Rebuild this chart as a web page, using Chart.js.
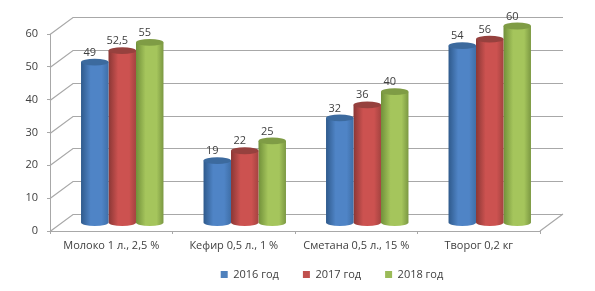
<!DOCTYPE html>
<html>
<head>
<meta charset="utf-8">
<script src="https://cdn.jsdelivr.net/npm/chart.js@4"></script>
<style>
  html, body { margin: 0; padding: 0; background: #fff; }
  #wrap { width: 595px; height: 291px; }
</style>
</head>
<body>
<div id="wrap"><canvas id="myChart" width="595" height="291"></canvas></div>
<script>
const categories = ["Молоко 1 л., 2,5 %", "Кефир 0,5 л., 1 %", "Сметана 0,5 л., 15 %", "Творог 0,2 кг"];
const seriesNames = ["2016 год", "2017 год", "2018 год"];
const values2016 = [49, 19, 32, 54];
const values2017 = [52.5, 22, 36, 56];
const values2018 = [55, 25, 40, 60];

const legendColors = ["#4f81bd", "#c0504d", "#9bbb59"];
//left edge, highlight, right edge, top cap
const shades = [
  ["#2f5a8c", "#4f84c6", "#3f6fa8", "#3c6a9e"],
  ["#8a3735", "#cc5250", "#a44340", "#96413e"],
  ["#71903a", "#a5c55c", "#7b9842", "#7f9c45"]
];

const fontName = "'Open Sans', sans-serif";
const textColor = "#404040";
const gridColor = "#a8a8a8";

//depth of the fake 3d box
const depthX = 23, depthY = 17;
const barShiftX = 11, barShiftY = -8;
const capRadius = 3.4;

//bars are drawn as cylinders, still using the positions the bar controller works out
Chart.BarElement.prototype.draw = function (ctx) {
  const shade = this.$shade;
  const left = this.x - this.width / 2;
  const right = this.x + this.width / 2;
  let grad = ctx.createLinearGradient(left, 0, right, 0);
  grad.addColorStop(0, shade[0]);
  grad.addColorStop(0.35, shade[1]);
  grad.addColorStop(0.75, shade[1]);
  grad.addColorStop(1, shade[2]);
  ctx.save();
  ctx.fillStyle = grad;
  ctx.beginPath();
  ctx.moveTo(left, this.y);
  ctx.lineTo(right, this.y);
  ctx.lineTo(right, this.base);
  ctx.ellipse(this.x, this.base, this.width / 2, capRadius, 0, 0, Math.PI);
  ctx.closePath();
  ctx.fill();
  ctx.fillStyle = shade[3];
  ctx.beginPath();
  ctx.ellipse(this.x, this.y, this.width / 2, capRadius, 0, 0, Math.PI * 2);
  ctx.fill();
  ctx.restore();
};

const box3d = {
  id: "box3d",
  afterLayout(chart) {
    //legend is centred under the right part of the plot, not the whole chart
    chart.legend.left = 124;
    //the axis box is squeezed to fit the legend, give the labels their room back
    chart.scales.x.height += 20;
    chart.scales.x.bottom += 20;
  },
  beforeDatasetsDraw(chart) {
    const ctx = chart.ctx;
    const y = chart.scales.y;
    const area = chart.chartArea;
    ctx.save();
    ctx.strokeStyle = gridColor;
    ctx.lineWidth = 1.2;
    ctx.beginPath();
    y.ticks.forEach(function (t) {
      const py = Math.round(y.getPixelForValue(t.value)) + 0.5;
      ctx.moveTo(area.left, py);
      ctx.lineTo(area.left + depthX, py - depthY);
      ctx.lineTo(area.right + depthX, py - depthY);
    });
    //floor, right side
    ctx.moveTo(area.right, area.bottom);
    ctx.lineTo(area.right + depthX, area.bottom - depthY);
    ctx.stroke();
    ctx.restore();

    //bars sit in the middle of the box depth
    ctx.save();
    ctx.translate(barShiftX, barShiftY);
    chart.data.datasets.forEach(function (ds, i) {
      chart.getDatasetMeta(i).data.forEach(function (el) {
        el.$shade = shades[i];
      });
    });
  },
  afterDatasetsDraw(chart) {
    const ctx = chart.ctx;
    ctx.restore();
    ctx.save();
    ctx.font = "11px " + fontName;
    ctx.fillStyle = textColor;
    ctx.textAlign = "center";
    ctx.textBaseline = "middle";
    chart.data.datasets.forEach(function (ds, i) {
      chart.getDatasetMeta(i).data.forEach(function (el, k) {
        const label = String(ds.data[k]).replace(".", ",");
        ctx.fillText(label, el.x + barShiftX - 5, el.y + barShiftY - 9.5);
      });
    });
    ctx.restore();
  }
};

const myChart = new Chart(document.getElementById("myChart"), {
  type: "bar",
  data: {
    labels: categories,
    datasets: [
      { label: seriesNames[0], data: values2016, backgroundColor: legendColors[0], clip: false },
      { label: seriesNames[1], data: values2017, backgroundColor: legendColors[1], clip: false },
      { label: seriesNames[2], data: values2018, backgroundColor: legendColors[2], clip: false }
    ]
  },
  options: {
    responsive: false,
    animation: false,
    layout: { padding: { top: 34, right: 55, bottom: 1, left: 0 } },
    datasets: { bar: { barPercentage: 1, categoryPercentage: 0.673 } },
    plugins: {
      tooltip: { enabled: false },
      legend: {
        position: "bottom",
        labels: {
          boxWidth: 7,
          boxHeight: 7,
          padding: 24,
          color: textColor,
          font: { family: fontName, size: 11 }
        }
      }
    },
    scales: {
      x: {
        afterFit(scale) { scale.height = 14; },
        border: { display: true, color: gridColor },
        grid: { drawOnChartArea: false, drawTicks: true, tickLength: 3, color: gridColor },
        ticks: { color: textColor, padding: 5, maxRotation: 0, autoSkip: false, font: { family: fontName, size: 11 } }
      },
      y: {
        min: 0,
        max: 60,
        afterFit(scale) { scale.width = 50; },
        border: { display: true, color: gridColor },
        grid: { drawOnChartArea: false, drawTicks: true, tickLength: 3, color: gridColor },
        ticks: { stepSize: 10, color: textColor, padding: 9, font: { family: fontName, size: 11 } }
      }
    }
  },
  plugins: [box3d]
});
</script>
</body>
</html>
